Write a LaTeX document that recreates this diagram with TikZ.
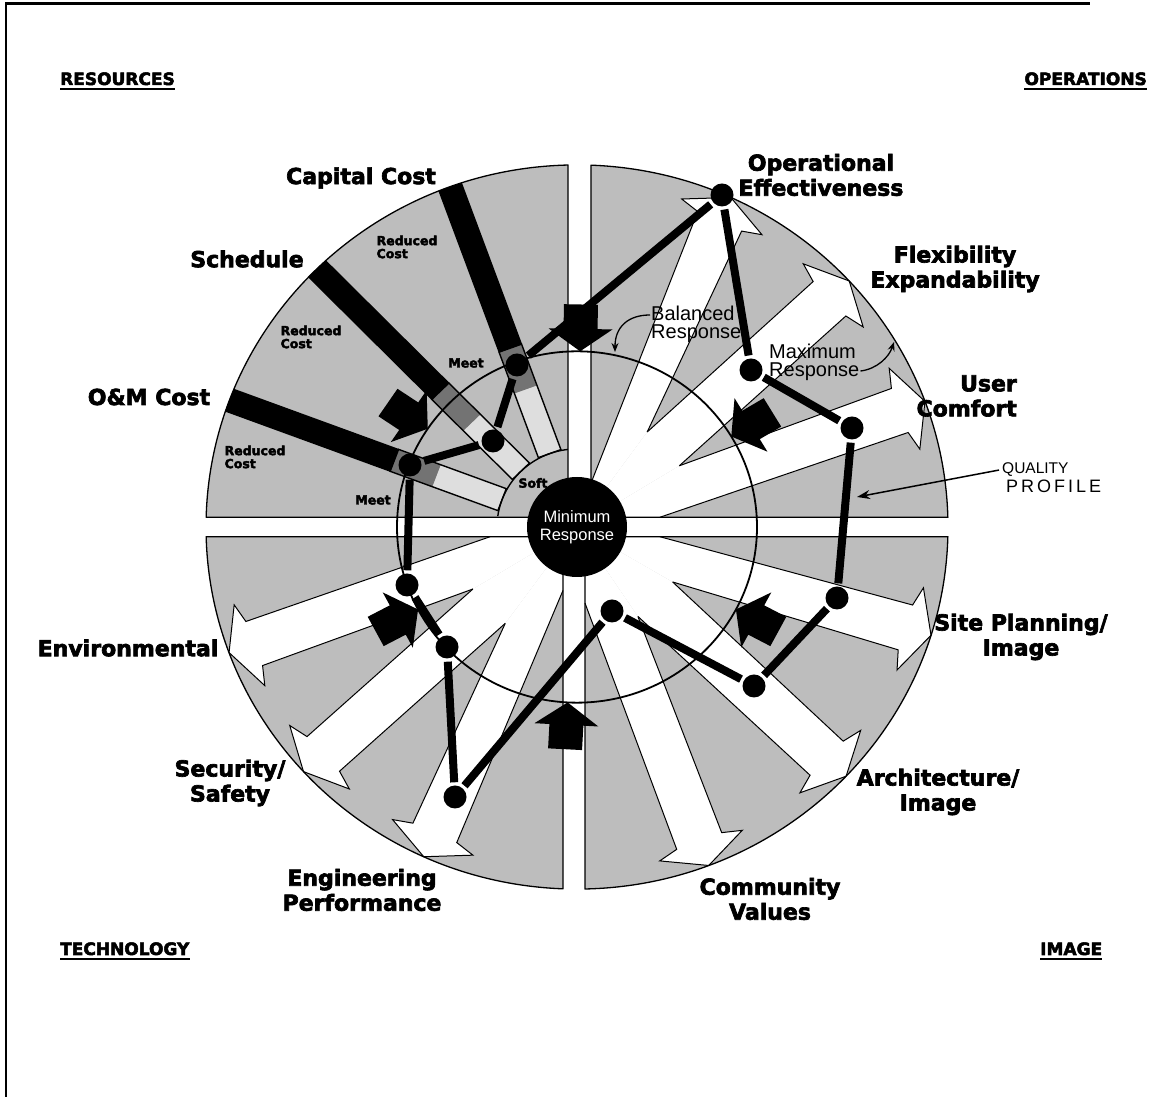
\documentclass[tikz,border=0pt]{standalone}
\usepackage{fontspec}
\setmainfont{Liberation Sans}
\newfontfamily\heavy[FakeBold=3]{DejaVu Sans Bold}
\usetikzlibrary{arrows.meta}
\definecolor{quadgray}{gray}{0.74}
\definecolor{lightgray}{gray}{0.87}
\definecolor{midgray}{gray}{0.45}
\newcommand{\wedgearrow}[3]{%
  \fill[white] #2 -- ({#1+4}:345) -- ({#1+7.2}:352) -- (#1:371) -- ({#1-7.2}:352) -- ({#1-4}:345) -- #3 -- (0,0) -- cycle;
  \draw[aline] #2 -- ({#1+4}:345) -- ({#1+7.2}:352) -- (#1:371) -- ({#1-7.2}:352) -- ({#1-4}:345) -- #3;}
\begin{document}
\begin{tikzpicture}[x=1pt,y=1pt,
  qline/.style={draw=black,line width=1.3pt,line join=round},
  aline/.style={draw=black,line width=1pt,line join=miter},
  sline/.style={draw=black,line width=1.4pt},
  profline/.style={line width=8pt,shorten <=3pt,shorten >=3pt},
  pdot/.style={circle,fill=black,minimum size=23pt,inner sep=0pt},
  lab/.style={font=\heavy\fontsize{22}{25}\selectfont,align=center,inner sep=0pt},
  corner/.style={font=\heavy\fontsize{17}{20}\selectfont,inner sep=0pt},
  small/.style={font=\heavy\fontsize{12.5}{13}\selectfont,align=left,inner sep=0pt},
  note/.style={font=\fontsize{20}{18}\selectfont,align=left,inner sep=0pt},
  blockarrow/.style={fill=black}]
\useasboundingbox (0,0) rectangle (1151,1097);
\fill[white] (0,0) rectangle (1151,1097);
% frame
\draw[line width=2.5pt] (6,0) -- (6,1093.5) -- (1090,1093.5);

\begin{scope}[shift={(577,570)}, yscale=0.976]
  % quadrant fills
  \fill[quadgray] (-9,10) -- (91.39:371) arc[start angle=91.39, end angle=178.46, radius=371] -- cycle;
  \fill[quadgray] (14,10) -- (1.54:371) arc[start angle=1.54, end angle=87.84, radius=371] -- cycle;
  \fill[quadgray] (-14,-10) -- (181.54:371) arc[start angle=181.54, end angle=267.84, radius=371] -- cycle;
  \fill[quadgray] (8,-10) -- (271.24:371) arc[start angle=271.24, end angle=358.46, radius=371] -- cycle;
  % white arrows: operations
  \wedgearrow{65.5}{(14,45)}{(54.2:120)}
  \wedgearrow{42.8}{(54.2:120)}{(31.5:120)}
  \wedgearrow{20.3}{(31.5:120)}{(83,10)}
  % technology
  \wedgearrow{200.3}{(211.4:122)}{(-87,-10)}
  \wedgearrow{222.5}{(234:122)}{(211.4:122)}
  \wedgearrow{245.6}{(-14,-65)}{(234:122)}
  % image
  \wedgearrow{-17.4}{(83,-10)}{(-30.5:111)}
  \wedgearrow{-43.5}{(-30.5:111)}{(-56.4:110)}
  \wedgearrow{-69.2}{(-56.4:110)}{(8,-78)}
  % resources strips and bars
  \foreach \a in {110,134.5,159.5} {
    \begin{scope}[rotate=\a]
      \fill[lightgray] (80,-12) rectangle (150,12);
      \fill[midgray] (150,-12) rectangle (195,12);
      \draw[sline] (80,-12) rectangle (195,12);
      \fill[black] (195,-12.5) rectangle (371,12.5);
    \end{scope}
  }
  \draw[sline] (96.5:80) arc[start angle=96.5, end angle=172, radius=80];
  % quadrant outlines
  \draw[qline] (-9,10) -- (91.39:371) arc[start angle=91.39, end angle=178.46, radius=371] -- cycle;
  \draw[qline] (14,10) -- (1.54:371) arc[start angle=1.54, end angle=87.84, radius=371] -- cycle;
  \draw[qline] (-14,-10) -- (181.54:371) arc[start angle=181.54, end angle=267.84, radius=371] -- cycle;
  \draw[qline] (8,-10) -- (271.24:371) arc[start angle=271.24, end angle=358.46, radius=371] -- cycle;
  % balanced response circle
  \draw[line width=1.8pt] (0,0) circle[radius=180];
  % block arrows
  \foreach \a in {89,146,31,208,267,332} {
    \fill[blockarrow,rotate=\a] (180,0) -- (203,32) -- (203,17) -- (228,17) -- (228,-17) -- (203,-17) -- (203,-32) -- cycle;
  }
\end{scope}

% quality profile
\node[pdot] (cap) at (517,732) {};
\node[pdot] (ope) at (722,902) {};
\node[pdot] (flx) at (751,727) {};
\node[pdot] (usr) at (852,669) {};
\node[pdot] (sit) at (837,499) {};
\node[pdot] (arcn) at (754,411) {};
\node[pdot] (com) at (612,486) {};
\node[pdot] (eng) at (455,300) {};
\node[pdot] (sec) at (447,450) {};
\node[pdot] (env) at (407,512) {};
\node[pdot] (om) at (410,632) {};
\node[pdot] (sch) at (493,656) {};
\foreach \p/\q in {cap/ope,ope/flx,flx/usr,usr/sit,sit/arcn,arcn/com,com/eng,eng/sec,sec/env,env/om,om/sch,sch/cap}
  \draw[profline] (\p) -- (\q);

% minimum response
\node[circle,fill=black,minimum size=100pt,inner sep=0pt,text=white,align=center,font=\fontsize{16.5}{18}\selectfont] (minr) at (577,570) {Minimum\\Response};

% labels
\node[lab] (lcap) at (361,919) {Capital Cost};
\node[lab] (lsch) at (247,838) {Schedule};
\node[lab] (lom) at (149,700) {O\&M Cost};
\node[lab] (lope) at (821,922) {Operational\\Effectiveness};
\node[lab] (lflx) at (955,828) {Flexibility\\Expandability};
\node[lab,align=right,anchor=east] (lusr) at (1017,701) {User\\Comfort};
\node[lab] (lsit) at (1021,460) {Site Planning/\\Image};
\node[lab] (larc) at (938,305) {Architecture/\\Image};
\node[lab] (lcom) at (770,198) {Community\\Values};
\node[lab] (leng) at (362,207) {Engineering\\Performance};
\node[lab] (lsec) at (230,314) {Security/\\Safety};
\node[lab] (lenv) at (128,449) {Environmental};

\node[corner,anchor=base west] (res) at (60,1012) {RESOURCES};
\node[corner,anchor=base east] (ops) at (1147,1012) {OPERATIONS};
\node[corner,anchor=base west] (tec) at (60,142) {TECHNOLOGY};
\node[corner,anchor=base west] (img) at (1040,142) {IMAGE};
\foreach \n in {res,ops,tec,img}
  \draw[line width=2pt] ([yshift=-4pt]\n.base west) -- ([yshift=-4pt]\n.base east);

\node[small] (rc1) at (407,850) {Reduced\\Cost};
\node[small] (rc2) at (311,760) {Reduced\\Cost};
\node[small] (rc3) at (255,640) {Reduced\\Cost};
\node[small] (mt1) at (466,734) {Meet};
\node[small] (mt2) at (373,597) {Meet};
\node[small] (sft) at (533,614) {Soft};

\node[note,anchor=north west] (bal) at (651,791) {Balanced\\Response};
\node[note,anchor=north west] (maxr) at (769,753) {Maximum\\Response};
\node[font=\fontsize{15.5}{16}\selectfont,anchor=base west,inner sep=0pt] (qual) at (1002,623) {QUALITY};
\node[font=\fontsize{18}{18}\selectfont,anchor=base west,inner sep=0pt] (profl) at (1006,604) {P\kern3pt R\kern3pt O\kern3pt F\kern3pt I\kern3pt L\kern3pt E};

\coordinate (qp) at (857,600);
\draw[line width=1.5pt,-{Stealth[length=13pt,width=9pt]}] ([xshift=-3pt]qual.west) -- (qp);
\coordinate (balE) at (615,745);
\draw[line width=1.3pt,-{Stealth[length=9pt,width=7pt]}] ([xshift=-1pt,yshift=-9pt]bal.north west) .. controls (628,782) and (615,770) .. (balE);
\coordinate (maxE) at (894,755);
\draw[line width=1.3pt,-{Stealth[length=9pt,width=7pt]}] ([xshift=1pt,yshift=10pt]maxr.south east) .. controls (877,728) and (889,740) .. (maxE);
\end{tikzpicture}
\end{document}
